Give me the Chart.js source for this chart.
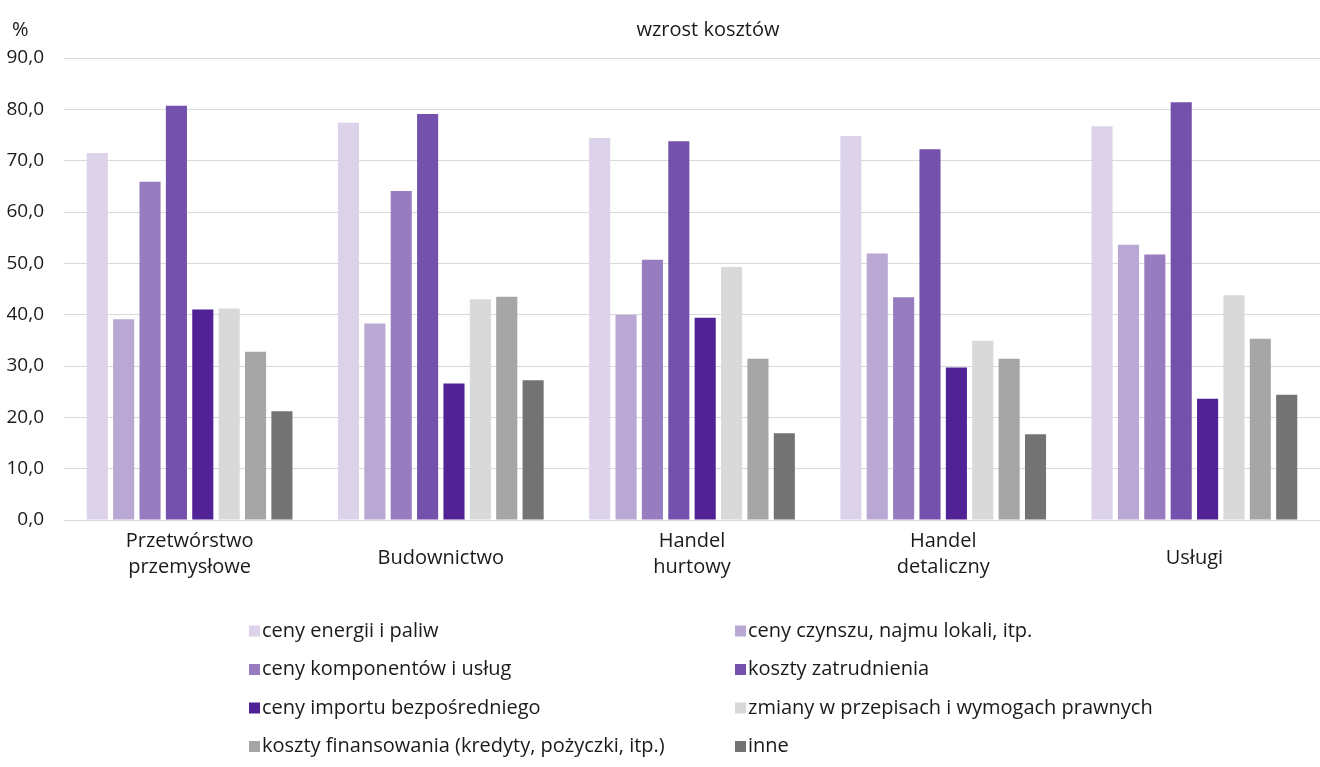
<!DOCTYPE html>
<html lang="pl">
<head>
    <meta charset="UTF-8">
    <title>wzrost kosztów</title>
    <script src="https://cdn.jsdelivr.net/npm/chart.js"></script>
    <style>
        html, body { margin: 0; padding: 0; background: #fff; }
    </style>
</head>
<body>
<canvas id="myChart" width="1320" height="767"></canvas>
<script>
    // kategorie (etykiety osi X, w liniach)
    const categories = [
        ['Przetwórstwo', 'przemysłowe'],
        ['Budownictwo'],
        ['Handel', 'hurtowy'],
        ['Handel', 'detaliczny'],
        ['Usługi']
    ];

    // serie (%)
    const energia = [71.5, 77.4, 74.4, 74.8, 76.7];
    const czynsz = [39.1, 38.3, 40.0, 51.9, 53.6];
    const komponenty = [65.9, 64.1, 50.7, 43.4, 51.7];
    const zatrudnienie = [80.7, 79.1, 73.8, 72.2, 81.4];
    const importBezp = [41.0, 26.6, 39.4, 29.7, 23.6];
    const przepisy = [41.2, 43.0, 49.3, 34.9, 43.8];
    const finansowanie = [32.8, 43.5, 31.4, 31.4, 35.3];
    const inne = [21.2, 27.2, 16.9, 16.7, 24.4];

    const seriesNames = [
        'ceny energii i paliw',
        'ceny czynszu, najmu lokali, itp.',
        'ceny komponentów i usług',
        'koszty zatrudnienia',
        'ceny importu bezpośredniego',
        'zmiany w przepisach i wymogach prawnych',
        'koszty finansowania (kredyty, pożyczki, itp.)',
        'inne'
    ];
    const seriesData = [energia, czynsz, komponenty, zatrudnienie, importBezp, przepisy, finansowanie, inne];
    const colors = ['#dcd3ea', '#b9a7d4', '#977dc0', '#7451ad', '#512296', '#d9d9d9', '#a6a6a6', '#737373'];

    // osie
    const yMin = 0, yMax = 90, yStep = 10;
    const chartTitle = 'wzrost kosztów';
    const unitLabel = '%';

    const FONT = '"Open Sans", "Noto Sans", sans-serif';
    const TEXT = '#1a1a1a';

    // tytuł, jednostka, etykiety kategorii i legenda rysowane ręcznie
    const extrasPlugin = {
        id: 'extras',
        afterDraw(chart) {
            const ctx = chart.ctx;
            const xScale = chart.scales.x;
            ctx.save();
            ctx.fillStyle = TEXT;
            ctx.font = '20px ' + FONT;
            ctx.textBaseline = 'middle';

            ctx.textAlign = 'left';
            ctx.fillText(unitLabel, 12, 30);
            ctx.textAlign = 'center';
            ctx.fillText(chartTitle, 708, 30);

            // etykiety kategorii (wyśrodkowane w pionie jak w Excelu)
            categories.forEach((lines, i) => {
                const x = xScale.getPixelForValue(i);
                const lh = 26;
                const y0 = 554 - (lines.length - 1) * lh / 2 + (lines.length === 1 ? 4 : 0);
                lines.forEach((t, j) => ctx.fillText(t, x, y0 + j * lh));
            });

            // legenda w 2 kolumnach
            ctx.textAlign = 'left';
            chart.data.datasets.forEach((ds, i) => {
                const col = i % 2, row = Math.floor(i / 2);
                const x = col === 0 ? 249 : 735;
                const y = 631 + row * 38.5;
                ctx.fillStyle = ds.backgroundColor;
                ctx.fillRect(x, y - 5.5, 11, 11);
                ctx.fillStyle = TEXT;
                ctx.fillText(ds.label, x + 13, y);
            });
            ctx.restore();
        }
    };

    new Chart(document.getElementById('myChart'), {
        type: 'bar',
        data: {
            labels: categories.map(c => c.join(' ')),
            datasets: seriesNames.map((name, i) => ({
                label: name,
                data: seriesData[i],
                backgroundColor: colors[i],
                borderWidth: 0,
                categoryPercentage: 0.84,
                barPercentage: 0.8
            }))
        },
        options: {
            responsive: false,
            animation: false,
            devicePixelRatio: 1,
            layout: {
                padding: { top: 58, right: 0, bottom: 239, left: 0 }
            },
            plugins: {
                legend: { display: false },
                title: { display: false },
                tooltip: { enabled: false }
            },
            scales: {
                x: {
                    ticks: { display: false },
                    grid: { display: false },
                    border: { color: '#d9d9d9', width: 1 }
                },
                y: {
                    min: yMin,
                    max: yMax,
                    afterFit(scale) { scale.width = 64; },
                    ticks: {
                        stepSize: yStep,
                        padding: 20,
                        color: TEXT,
                        font: { family: FONT, size: 19 },
                        callback: v => v.toFixed(1).replace('.', ',')
                    },
                    grid: { color: '#d9d9d9', lineWidth: 1, drawTicks: false },
                    border: { display: false }
                }
            }
        },
        plugins: [extrasPlugin]
    });
</script>
</body>
</html>
